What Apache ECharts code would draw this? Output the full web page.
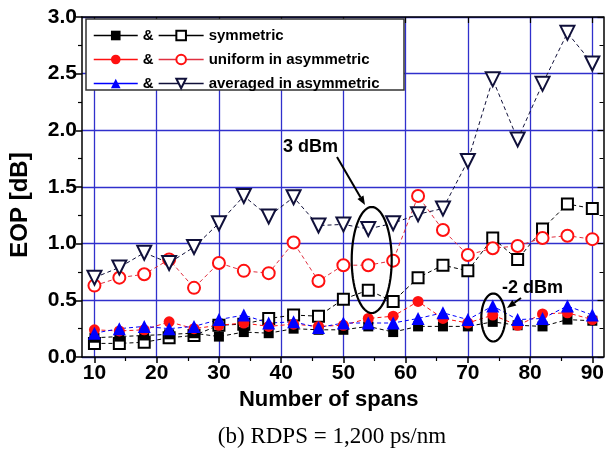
<!DOCTYPE html>
<html><head><meta charset="utf-8">
<script src="https://cdn.jsdelivr.net/npm/echarts@6/dist/echarts.min.js"></script>
<style>html,body{margin:0;padding:0;background:#fff}#c{width:607px;height:452px}</style>
</head><body><div id="c"></div>
<script>
// x values: number of spans
const spans = [10,14,18,22,26,30,34,38,42,46,50,54,58,62,66,70,74,78,82,86,90];
// -2 dBm (filled markers)
const symFilled  = [0.17,0.18,0.19,0.20,0.21,0.18,0.22,0.21,0.25,0.24,0.24,0.27,0.22,0.27,0.27,0.27,0.31,0.28,0.27,0.33,0.32];
const uniFilled  = [0.24,0.23,0.24,0.31,0.25,0.28,0.30,0.27,0.29,0.27,0.28,0.34,0.36,0.49,0.34,0.30,0.37,0.28,0.38,0.39,0.33];
const avgFilled  = [0.21,0.25,0.27,0.25,0.27,0.33,0.37,0.30,0.31,0.26,0.30,0.30,0.30,0.34,0.39,0.33,0.45,0.33,0.34,0.45,0.37];
// 3 dBm (open markers)
const symOpen    = [0.12,0.12,0.13,0.17,0.19,0.28,0.29,0.34,0.37,0.36,0.51,0.59,0.49,0.70,0.81,0.76,1.05,0.86,1.13,1.35,1.31];
const uniOpen    = [0.63,0.70,0.73,0.86,0.61,0.83,0.76,0.74,1.01,0.67,0.81,0.81,0.85,1.42,1.12,0.90,0.96,0.98,1.05,1.07,1.04];
const avgOpen    = [0.70,0.79,0.92,0.83,0.97,1.18,1.42,1.24,1.41,1.16,1.17,1.13,1.18,1.26,1.31,1.73,2.45,1.92,2.41,2.86,2.59];
// ticks
const xMajorTicks = [10,20,30,40,50,60,70,80,90];
const xMinorTicks = [15,25,35,45,55,65,75,85];
const legendLabels = ['symmetric','uniform in asymmetric','averaged in asymmetric'];
const filledNames = ['symmetric (-2 dBm)','uniform in asymmetric (-2 dBm)','averaged in asymmetric (-2 dBm)'];

const pair = arr => spans.map((s, i) => [s, arr[i]]);
const chart = echarts.init(document.getElementById('c'), null, {renderer: 'canvas'});

const RED = '#ff1010', BLUE = '#0000ff', BLK = '#000000';
function mk(name, arr, symbol, size, color, lineColor, rotate) {
  return {
    name, type: 'line', data: pair(arr), symbol, symbolSize: size, symbolRotate: rotate || 0,
    itemStyle: {color, borderWidth: 1.3},
    lineStyle: {color: lineColor, width: 1, type: [4, 3]},
    emphasis: {disabled: true}, animation: false
  };
}

const boldTxt = {fontFamily: 'Liberation Sans, Arial, sans-serif', fontWeight: 'bold', color: '#000'};

const option = {
  backgroundColor: '#fff',
  animation: false,
  grid: {left: 82, right: 0, top: 17, bottom: 95},
  xAxis: [
    {type: 'value', position: 'bottom', min: 8, max: 91.8,
     axisLine: {show: true, onZero: false, lineStyle: {color: BLK, width: 1.5}},
     axisTick: {show: true, customValues: xMajorTicks, length: 6, lineStyle: {color: BLK, width: 1.5}},
     axisLabel: {customValues: xMajorTicks, margin: 6, fontSize: 21, ...boldTxt},
     splitLine: {show: true, lineStyle: {color: '#3030cc', width: 1.3}},
     name: 'Number of spans', nameLocation: 'middle', nameGap: 27,
     nameTextStyle: {fontSize: 22, padding: [0, 28, 0, 0], ...boldTxt}},
    {type: 'value', position: 'bottom', min: 8, max: 91.8,
     axisLine: {show: false, onZero: false},
     axisTick: {show: true, customValues: xMinorTicks, length: 4, lineStyle: {color: BLK, width: 1.2}},
     axisLabel: {show: false}, splitLine: {show: false}},
    {type: 'value', position: 'top', min: 8, max: 91.8,
     axisLine: {show: true, onZero: false, lineStyle: {color: BLK, width: 1.5}},
     axisTick: {show: true, inside: true, customValues: xMajorTicks, length: 6, lineStyle: {color: BLK, width: 1.2}},
     axisLabel: {show: false}, splitLine: {show: false}}
  ],
  yAxis: [
    {type: 'value', position: 'left', min: 0, max: 3, interval: 0.5,
     axisLine: {show: true, onZero: false, lineStyle: {color: BLK, width: 1.5}},
     axisTick: {show: true, length: 6, lineStyle: {color: BLK, width: 1.5}},
     minorTick: {show: true, splitNumber: 2, length: 4, lineStyle: {color: BLK, width: 1.2}},
     axisLabel: {formatter: v => v.toFixed(1), margin: 5, fontSize: 21, ...boldTxt},
     splitLine: {show: true, lineStyle: {color: '#3030cc', width: 1.3}},
     name: 'EOP [dB]', nameLocation: 'middle', nameGap: 50, nameRotate: 90,
     nameTextStyle: {fontSize: 24, padding: [0, 36, 0, 0], ...boldTxt}},
    {type: 'value', position: 'right', min: 0, max: 3, interval: 0.5,
     axisLine: {show: true, onZero: false, lineStyle: {color: BLK, width: 1.5}},
     axisTick: {show: true, inside: true, length: 6, lineStyle: {color: BLK, width: 1.2}},
     minorTick: {show: true, splitNumber: 2, length: 4},
     axisLabel: {show: false}, splitLine: {show: false}}
  ],
  legend: [
    {data: filledNames, orient: 'vertical', left: 93, top: 28, itemWidth: 44, itemHeight: 12, itemGap: 9,
     padding: 0, selectedMode: false, formatter: () => '&',
     lineStyle: {type: 'solid', width: 1.5}, textStyle: {fontSize: 15, ...boldTxt}},
    {data: legendLabels, orient: 'vertical', left: 158, top: 28, itemWidth: 45, itemHeight: 12, itemGap: 9,
     padding: 0, selectedMode: false,
     lineStyle: {type: 'solid', width: 1.3}, textStyle: {fontSize: 15, ...boldTxt}}
  ],
  series: [
    mk(legendLabels[0], symOpen, 'emptyRect', 11, BLK, BLK),
    mk(legendLabels[1], uniOpen, 'emptyCircle', 12, RED, '#e03040'),
    mk(legendLabels[2], avgOpen, 'emptyTriangle', 14, '#10103a', '#10103a', 180),
    mk(filledNames[0], symFilled, 'rect', 10, BLK, BLK),
    mk(filledNames[1], uniFilled, 'circle', 11, RED, RED),
    mk(filledNames[2], avgFilled, 'triangle', 13, BLUE, BLUE)
  ]
};
chart.setOption(option);

// annotation helpers (pure geometry)
function ellipsePts(cx, cy, rx, ry) {
  const pts = [];
  for (let k = 0; k < 72; k++) { const a = k / 72 * Math.PI * 2; pts.push([cx + rx * Math.cos(a), cy + ry * Math.sin(a)]); }
  return pts;
}
function arrow(x1, y1, x2, y2) {
  const ang = Math.atan2(y2 - y1, x2 - x1), L = 9, W = 3.5;
  const bx = x2 - L * Math.cos(ang), by = y2 - L * Math.sin(ang);
  return [
    {type: 'line', z: 10, shape: {x1, y1, x2: bx, y2: by}, style: {stroke: '#000', lineWidth: 2}},
    {type: 'polygon', z: 10, shape: {points: [[x2, y2], [bx + W * Math.sin(ang), by - W * Math.cos(ang)], [bx - W * Math.sin(ang), by + W * Math.cos(ang)]]}, style: {fill: '#000'}}
  ];
}
chart.setOption({
  graphic: [
    {type: 'rect', z: 3, shape: {x: 86, y: 19, width: 318, height: 71}, style: {fill: '#fff', stroke: '#333', lineWidth: 1.5}},
    {type: 'text', z: 10, x: 283, y: 147, style: {text: '3 dBm', fontSize: 18, fontWeight: 'bold', fontFamily: 'Liberation Sans, Arial, sans-serif', fill: '#000', verticalAlign: 'middle'}},
    {type: 'polygon', z: 10, shape: {points: ellipsePts(371.7, 260, 20, 53)}, style: {fill: 'none', stroke: '#000', lineWidth: 2.2}},
    ...arrow(337, 157, 365, 205),
    {type: 'text', z: 10, x: 502, y: 288, style: {text: '-2 dBm', fontSize: 18, fontWeight: 'bold', fontFamily: 'Liberation Sans, Arial, sans-serif', fill: '#000', verticalAlign: 'middle'}},
    {type: 'polygon', z: 10, shape: {points: ellipsePts(493.3, 317.5, 12, 24)}, style: {fill: 'none', stroke: '#000', lineWidth: 2.2}},
    ...arrow(521, 298, 507, 308),
    {type: 'text', z: 10, x: 332, y: 437, style: {text: '(b) RDPS = 1,200 ps/nm', fontSize: 23, fontFamily: 'Liberation Serif, Times New Roman, serif', fill: '#000', align: 'center', verticalAlign: 'middle'}}
  ]
});
</script>
</body></html>
